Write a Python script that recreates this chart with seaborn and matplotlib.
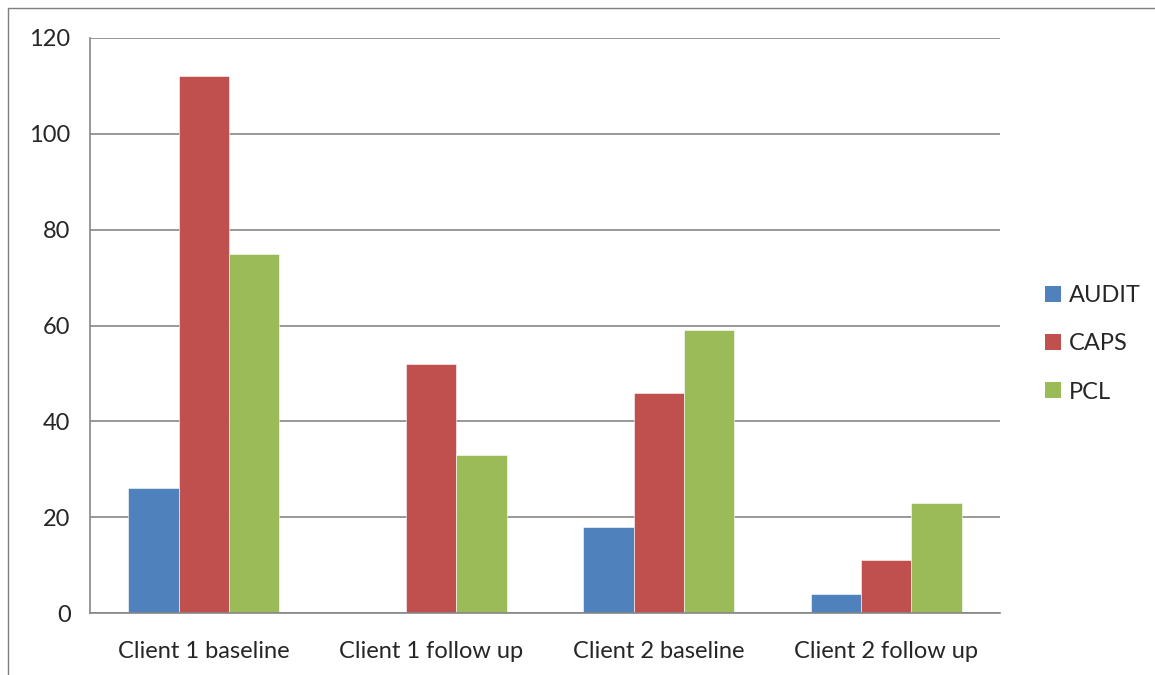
import pandas as pd
import matplotlib.pyplot as plt
import seaborn as sns
from matplotlib.lines import Line2D
from matplotlib.patches import Patch

# --- Data ---
clients = ['Client 1 baseline', 'Client 1 follow up', 'Client 2 baseline', 'Client 2 follow up']
measures = ['AUDIT', 'CAPS', 'PCL']
audit = [26, 0, 18, 4]
caps = [112, 52, 46, 11]
pcl = [75, 33, 59, 23]
colors = ['#4F81BD', '#C0504D', '#9BBB59']

df = pd.DataFrame({
    'client': clients * 3,
    'measure': [m for m in measures for _ in clients],
    'score': audit + caps + pcl,
})

sns.set_style('white')
plt.rcParams['font.family'] = ['Lato', 'DejaVu Sans']

W, H = 1155, 675
fig = plt.figure(figsize=(W / 100, H / 100), dpi=100)
ax = fig.add_axes([90 / W, 1 - 613 / H, 910 / W, 575 / H])

sns.barplot(data=df, x='client', y='score', hue='measure', hue_order=measures,
            order=clients, palette=colors, width=0.664, saturation=1,
            edgecolor='white', linewidth=0.4, legend=False, ax=ax)

grid_c = '#868686'
ax.set_ylim(0, 120)
ax.set_yticks(range(0, 121, 20))
ax.set_xlim(-0.5, 3.5)
ax.yaxis.grid(True, color=grid_c, linewidth=1.2)
ax.set_axisbelow(True)
for s in ['top', 'right']:
    ax.spines[s].set_visible(False)
for s in ['left', 'bottom']:
    ax.spines[s].set_color(grid_c)
    ax.spines[s].set_linewidth(1.2)

ax.set_xlabel('')
ax.set_ylabel('')
ax.tick_params(axis='y', length=8, color=grid_c, width=1.2, labelsize=17, pad=6)
ax.tick_params(axis='x', length=0, labelsize=17, pad=20)
ax.set_xticks([-0.5, 0.5, 1.5, 2.5, 3.5], minor=True)
ax.tick_params(axis='x', which='minor', length=8, color=grid_c, width=1.2, direction='out')

handles = [Patch(facecolor=c, edgecolor='none') for c in colors]
fig.legend(handles, measures, loc='center left', bbox_to_anchor=(1024 / W, 1 - 344 / H),
           frameon=False, fontsize=17, handlelength=0.65, handleheight=0.65,
           handletextpad=0.35, labelspacing=1.15)

# outer chart border (top and left only visible)
fig.add_artist(Line2D([8 / W, 8 / W], [0, 1 - 8 / H], color='#7f7f7f', linewidth=1.0))
fig.add_artist(Line2D([8 / W, 1], [1 - 8 / H, 1 - 8 / H], color='#7f7f7f', linewidth=1.0))

fig.savefig('out.png', dpi=100)
